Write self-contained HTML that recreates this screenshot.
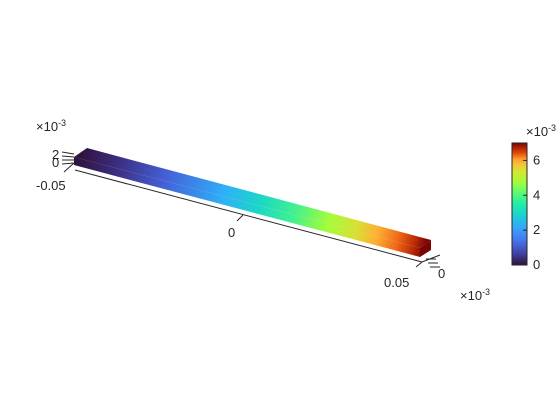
<!DOCTYPE html>
<html><head><meta charset="utf-8"><style>
body{margin:0;background:#fff;}
svg{display:block;font-family:"Liberation Sans",sans-serif;}
text{fill:#262626;font-size:13px;}
</style></head><body>
<svg width="560" height="420" viewBox="0 0 560 420">
<defs>
<linearGradient id="turbo" x1="0" y1="1" x2="0" y2="0">
<stop offset="0" stop-color="#30123b"/><stop offset="0.1" stop-color="#4145ab"/><stop offset="0.2" stop-color="#4675ed"/><stop offset="0.3" stop-color="#39a2fc"/><stop offset="0.4" stop-color="#1bcfd4"/><stop offset="0.5" stop-color="#24eca6"/><stop offset="0.6" stop-color="#61fc6c"/><stop offset="0.68" stop-color="#a4fc3b"/><stop offset="0.76" stop-color="#d1e834"/><stop offset="0.82" stop-color="#f3c63a"/><stop offset="0.87" stop-color="#fe9b2d"/><stop offset="0.92" stop-color="#e4460a"/><stop offset="1" stop-color="#7a0403"/>
</linearGradient>
<linearGradient id="barTop" gradientUnits="userSpaceOnUse" x1="80" y1="152" x2="426" y2="244">
<stop offset="0" stop-color="#30123b"/><stop offset="0.1" stop-color="#3a2a7a"/><stop offset="0.25" stop-color="#4560d8"/><stop offset="0.42" stop-color="#2fb0f8"/><stop offset="0.52" stop-color="#1bd6c8"/><stop offset="0.62" stop-color="#40f090"/><stop offset="0.72" stop-color="#a4fc3b"/><stop offset="0.8" stop-color="#d8e035"/><stop offset="0.86" stop-color="#fdb033"/><stop offset="0.92" stop-color="#f06a18"/><stop offset="0.97" stop-color="#b82a05"/><stop offset="1" stop-color="#7a0403"/>
</linearGradient>
</defs>
<script>
const cbTicks=[0,2,4,6];
const cbMin=0, cbMax=7;
</script>
<line x1="75" y1="170" x2="422" y2="262" stroke="#262626" stroke-width="1"/>
<line x1="237" y1="221" x2="243" y2="215" stroke="#262626"/>
<text x="228" y="237">0</text>
<line x1="416" y1="267" x2="422" y2="262" stroke="#262626"/>
<text x="384" y="287">0.05</text>
<g stroke="#262626">
<line x1="422" y1="262" x2="440" y2="255"/><line x1="426" y1="259" x2="436" y2="259"/><line x1="428" y1="263" x2="438" y2="263"/><line x1="430" y1="267" x2="440" y2="267"/>
</g>
<text x="438" y="278">0</text>
<text x="460" y="300" font-size="11">×10<tspan dy="-5" font-size="9">-3</tspan></text>
<g stroke="#262626">
<line x1="74" y1="163" x2="64" y2="172"/><line x1="62" y1="152" x2="74" y2="154"/><line x1="62" y1="156" x2="74" y2="157"/><line x1="62" y1="160" x2="74" y2="160"/><line x1="62" y1="164" x2="74" y2="163"/>
</g>
<text x="52" y="159">2</text>
<text x="52" y="167">0</text>
<text x="36" y="190">-0.05</text>
<text x="36" y="131" font-size="11">×10<tspan dy="-5" font-size="9">-3</tspan></text>
<g>
<polygon points="74,157 420,248 420,257 74,165" fill="url(#barTop)"/>
<polygon points="87,148 431,240 420,248 74,157" fill="url(#barTop)"/>
<polygon points="420,248 431,240 431,250 420,257" fill="#7a0403"/>
</g>
<g id="cb">
<rect x="512" y="143" width="15" height="122" fill="url(#turbo)" stroke="#262626" stroke-width="1"/>
<text x="526" y="136" font-size="11">×10<tspan dy="-5" font-size="9">-3</tspan></text>
</g>
<script>
const cb=document.getElementById('cb');
const cbY=v=>265-(v-cbMin)/(cbMax-cbMin)*122;
cbTicks.forEach(t=>{
 const l=document.createElementNS('http://www.w3.org/2000/svg','line');
 l.setAttribute('x1',523);l.setAttribute('x2',527);l.setAttribute('y1',cbY(t));l.setAttribute('y2',cbY(t));l.setAttribute('stroke','#262626');
 
 
 cb.appendChild(l);
 const tx=document.createElementNS('http://www.w3.org/2000/svg','text');
 tx.setAttribute('x',533);tx.setAttribute('y',cbY(t)+4);tx.setAttribute('font-size','11');tx.textContent=t;
 
 
 cb.appendChild(tx);
});
</script>
</svg>
</body></html>
